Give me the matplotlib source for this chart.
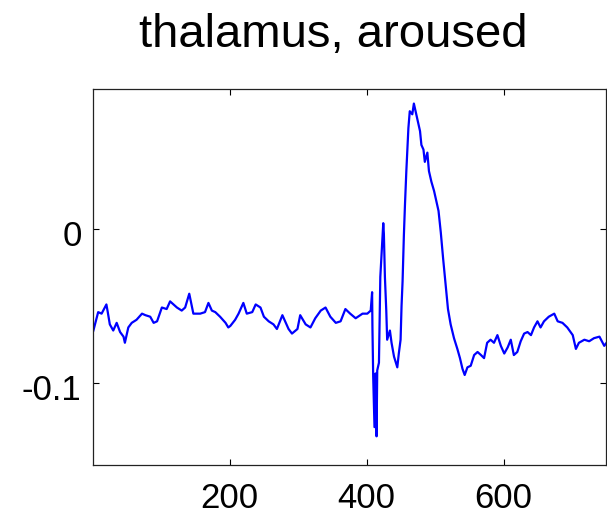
import matplotlib
matplotlib.use("Agg")
import matplotlib.pyplot as plt
import matplotlib.transforms as mtransforms

plt.rcParams['font.family'] = ['Liberation Sans', 'DejaVu Sans']
plt.rcParams['axes.unicode_minus'] = False

# trace (time, signal)
t = [1, 8, 13, 20, 22, 25, 30, 35, 40, 45, 47, 52, 57, 64, 72, 77, 84, 89, 94,
     101, 108, 113, 118, 123, 130, 135, 141, 147, 157, 164, 169, 174, 179, 186,
     194, 198,
     201, 208, 213, 220, 225, 233, 238, 245, 250, 257, 264, 269, 277, 281, 286,
     291, 299, 303, 311, 318, 325, 333, 340, 347, 355, 362, 369, 376, 384, 394,
     401, 406,
     408, 408.5, 409.6, 411.5, 413, 414.5, 415.5, 418, 420, 423, 424.3, 425.2,
     426.7, 428.7, 430, 434, 436.4, 440, 444.8, 447, 449.6, 451, 452.5, 454.4,
     456, 458, 459.4, 461, 463, 466.7, 469, 471.5, 475, 478, 480, 483, 485,
     488.7, 491, 494.6, 498.5, 502, 505, 508.3, 511.7, 515.4, 518.8, 522.7,
     527.6, 532.5, 536.3, 540, 543.2, 547.2,
     552, 557, 562, 567, 571.5, 576, 581, 586, 591, 596, 601, 606, 610.5, 615,
     620, 625, 630, 635, 640, 644.5, 649.5, 654, 659, 666, 674, 679, 686, 693,
     701, 705.6, 710, 718, 725, 732, 740, 747, 752]
v = [-0.066, -0.054, -0.055, -0.049, -0.054, -0.062, -0.066, -0.061, -0.067,
     -0.070, -0.074, -0.064, -0.061, -0.059, -0.055, -0.056, -0.057, -0.061,
     -0.060, -0.051, -0.052, -0.047, -0.049, -0.051, -0.053, -0.051, -0.042,
     -0.055, -0.055, -0.054, -0.048, -0.053, -0.054, -0.057, -0.061, -0.064,
     -0.063, -0.059, -0.055, -0.048, -0.055, -0.054, -0.049, -0.051, -0.057,
     -0.060, -0.062, -0.065, -0.056, -0.060, -0.065, -0.068, -0.065, -0.056,
     -0.062, -0.064, -0.058, -0.053, -0.051, -0.057, -0.061, -0.060, -0.052,
     -0.055, -0.058, -0.055, -0.055, -0.053,
     -0.041, -0.064, -0.096, -0.129, -0.094, -0.135, -0.092, -0.087, -0.031,
     -0.007, 0.004, -0.003, -0.031, -0.053, -0.072, -0.066, -0.074, -0.083,
     -0.090, -0.081, -0.072, -0.050, -0.034, -0.004, 0.016, 0.038, 0.051,
     0.066, 0.077, 0.075, 0.082, 0.077, 0.070, 0.064, 0.055, 0.052, 0.044,
     0.050, 0.038, 0.031, 0.025, 0.018, 0.012, -0.002, -0.019, -0.036, -0.052,
     -0.062, -0.071, -0.078, -0.084, -0.091, -0.095, -0.090,
     -0.089, -0.082, -0.080, -0.082, -0.084, -0.074, -0.072, -0.074, -0.069,
     -0.076, -0.081, -0.077, -0.072, -0.082, -0.080, -0.073, -0.068, -0.067,
     -0.069, -0.064, -0.060, -0.064, -0.060, -0.057, -0.055, -0.060, -0.061,
     -0.064, -0.069, -0.078, -0.074, -0.072, -0.073, -0.071, -0.070, -0.076,
     -0.073]

xticks = [200, 400, 600]
yticks = [-0.1, 0]
ytick_labels = ['-0.1', '0']

fig = plt.figure(figsize=(6.07, 5.18), dpi=100)
ax = fig.add_axes([92.7 / 607, 1 - 465 / 518, (606.3 - 92.7) / 607, (465 - 89) / 518])

ax.plot(t, v, color='#0000ff', linewidth=1.6)

ax.set_xlim(0, 750)
ax.set_ylim(-0.1537, 0.0915)
ax.set_xticks(xticks)
ax.set_xticklabels([str(x) for x in xticks])
ax.set_yticks(yticks)
ax.set_yticklabels(ytick_labels)
ax.tick_params(direction='in', length=4, width=0.8, top=True, right=True,
               labelsize=25, colors='black')
ax.tick_params(axis='x', pad=12)
ax.tick_params(axis='y', pad=8)
for s in ax.spines.values():
    s.set_linewidth(0.9)
    s.set_color('#222222')

# y labels sit a little below their ticks in the original
shift = mtransforms.ScaledTranslation(0, -4 / 100, fig.dpi_scale_trans)
for lab in ax.get_yticklabels():
    lab.set_transform(lab.get_transform() + shift)

fig.text(333 / 607, 1 - 47 / 518, 'thalamus, aroused', ha='center',
         va='baseline', fontsize=34)

fig.savefig('out.png', dpi=100)
